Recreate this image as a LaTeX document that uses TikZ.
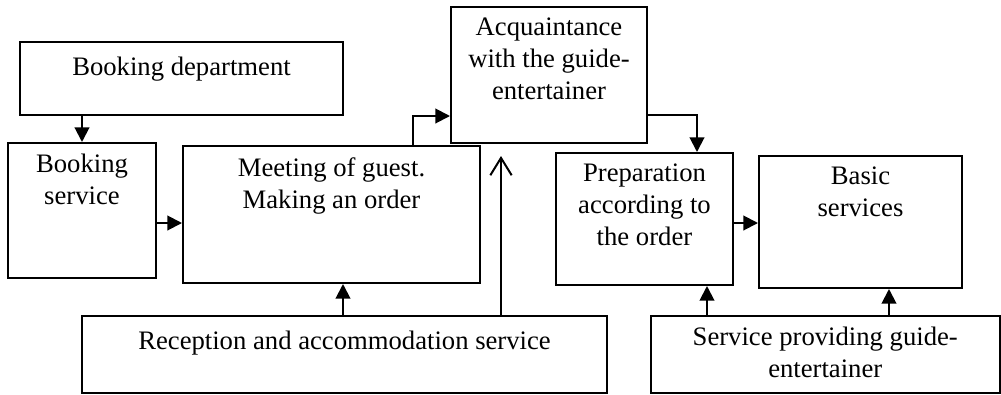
\documentclass[tikz,border=0pt]{standalone}
\usepackage{fontspec}
\setmainfont{Liberation Serif}
\usetikzlibrary{arrows.meta}
\begin{document}
\begin{tikzpicture}[x=0.75pt,y=-0.75pt,
  box/.style={draw, line width=1.5pt, inner sep=0pt, minimum width=#1},
  txt/.style={anchor=north, align=center, label distance=-9pt, inner sep=0pt,
    font=\fontsize{20}{24}\selectfont, execute at begin node=\strut},
  arr/.style={line width=1.5pt, -{Triangle[length=11pt,width=11pt]}},
  open/.style={line width=1.5pt, shorten >=9pt, -{Straight Barb[length=13pt,width=16pt,line width=1.5pt]}}]
\useasboundingbox (0,0) rectangle (1001,394);
\node[box=242.25pt, minimum height=54.75pt, label={[txt]north:Booking department}] (bd) at (181.5,78.5) {};
\node[box=111pt, minimum height=101.25pt, label={[txt]north:Booking\\service}] (bs) at (82,210.5) {};
\node[box=222.75pt, minimum height=102.75pt, label={[txt]north:Meeting of guest.\\Making an order}] (mt) at (331.5,214.5) {};
\node[box=147pt, minimum height=102pt, label={[txt]north:Acquaintance\\with the guide-\\entertainer}] (aq) at (549,75) {};
\node[box=132.75pt, minimum height=99pt, label={[txt]north:Preparation\\according to\\the order}] (pr) at (644.5,219) {};
\node[box=152.25pt, minimum height=99pt, label={[txt]north:Basic\\services}] (bsv) at (860.5,222) {};
\node[box=393.75pt, minimum height=57.75pt, label={[txt]north:Reception and accommodation service}] (rc) at (344.5,354.5) {};
\node[box=261.4pt, minimum height=57.75pt, label={[txt]north:Service providing guide-\\entertainer}] (sp) at (825.25,354.5) {};
\draw[arr] (bs.north |- bd.south) -- (bs.north);
\draw[arr] (bs.east |- 0,223) -- (mt.west |- 0,223);
\draw[arr] (mt.north -| 413,0) |- (aq.west |- 0,116);
\draw[arr] (aq.east |- 0,115) -| (pr.north -| 697,0);
\draw[arr] (pr.east |- 0,223) -- (bsv.west |- 0,223);
\draw[arr] (rc.north -| 343,0) -- (mt.south -| 343,0);
\draw[open] (rc.north -| 501,0) -- (aq.south -| 501,0);
\draw[arr] (sp.north -| 707,0) -- (pr.south -| 707,0);
\draw[arr] (sp.north -| 889,0) -- (bsv.south -| 889,0);
\end{tikzpicture}
\end{document}
